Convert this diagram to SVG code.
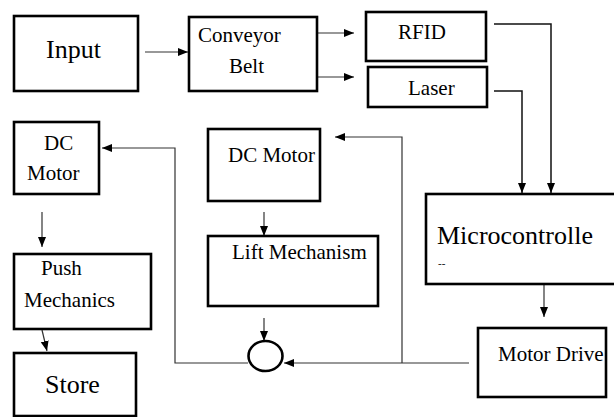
<svg xmlns="http://www.w3.org/2000/svg" width="614" height="417" viewBox="0 0 614 417">
<style>
.box{fill:#fff;stroke:#000;stroke-width:2.6}
text{font-family:'Liberation Serif','DejaVu Serif',serif;fill:#000}
.c{fill:none;stroke:#333;stroke-width:1.2}
.c2{fill:none;stroke:#111;stroke-width:1.5}
</style>
<defs>
<marker id="ah" markerUnits="userSpaceOnUse" markerWidth="10" markerHeight="10" viewBox="0 0 10 8" refX="10" refY="4" orient="auto">
<path d="M0,0 L10,4 L0,8 z" fill="#000"/>
</marker>
</defs>
<rect width="614" height="417" fill="#fff"/>
<g id="connectors">
<path class="c" d="M145,52 H188" marker-end="url(#ah)"/>
<path class="c" d="M310,33 H354" marker-end="url(#ah)"/>
<path class="c" d="M310,77 H354" marker-end="url(#ah)"/>
<path class="c2" d="M494,24 H551 V193" marker-end="url(#ah)"/>
<path class="c2" d="M494,91 H522 V193" marker-end="url(#ah)"/>
<path class="c" d="M544,278 V317" marker-end="url(#ah)"/>
<path class="c" d="M469,363 H284" marker-end="url(#ah)"/>
<path class="c" d="M402,363 V137 H335" marker-end="url(#ah)"/>
<path class="c" d="M248,363 H175 V148 H102" marker-end="url(#ah)"/>
<path class="c" d="M264,212 V236" marker-end="url(#ah)"/>
<path class="c" d="M264,318 V341" marker-end="url(#ah)"/>
<path class="c" d="M42,212 V247" marker-end="url(#ah)"/>
<path class="c" d="M42,330 L47,351" marker-end="url(#ah)"/>
</g>
<g id="input"><rect class="box" x="14" y="16" width="124" height="75"/><text font-family="Liberation Serif, serif" x="46" y="58" font-size="26">Input</text></g>
<g id="conveyor"><rect class="box" x="189" y="17" width="128" height="74"/><text font-family="Liberation Serif, serif" x="198" y="42" font-size="21">Conveyor</text><text font-family="Liberation Serif, serif" x="229" y="73" font-size="21">Belt</text></g>
<g id="rfid"><rect class="box" x="366" y="12" width="120" height="49"/><text font-family="Liberation Serif, serif" x="398" y="39" font-size="21">RFID</text></g>
<g id="laser"><rect class="box" x="368" y="67" width="119" height="40"/><text font-family="Liberation Serif, serif" x="408" y="95" font-size="21">Laser</text></g>
<g id="dcmotor-left"><rect class="box" x="14" y="122" width="85" height="72"/><text font-family="Liberation Serif, serif" x="44" y="150" font-size="21">DC</text><text font-family="Liberation Serif, serif" x="27" y="180" font-size="21">Motor</text></g>
<g id="dcmotor-mid"><rect class="box" x="208" y="129" width="112" height="72"/><text font-family="Liberation Serif, serif" x="228" y="162" font-size="21">DC Motor</text></g>
<g id="lift"><rect class="box" x="208" y="236" width="170" height="70"/><text font-family="Liberation Serif, serif" x="232" y="259" font-size="21">Lift Mechanism</text></g>
<g id="push"><rect class="box" x="14" y="254" width="137" height="75"/><text font-family="Liberation Serif, serif" x="41" y="275" font-size="21">Push</text><text font-family="Liberation Serif, serif" x="24" y="307" font-size="21">Mechanics</text></g>
<g id="store"><rect class="box" x="14" y="353" width="122" height="63"/><text font-family="Liberation Serif, serif" x="45" y="393" font-size="26">Store</text></g>
<g id="micro"><rect class="box" x="426" y="194" width="192" height="90"/><text font-family="Liberation Serif, serif" x="437" y="244" font-size="26">Microcontrolle</text><text font-family="Liberation Serif, serif" x="438" y="267" font-size="11">--</text></g>
<g id="motordrive"><rect class="box" x="478" y="328" width="128" height="69"/><text font-family="Liberation Serif, serif" x="498" y="361" font-size="21">Motor Drive</text></g>
<g id="junction"><ellipse cx="265.5" cy="356" rx="17" ry="15" fill="#fff" stroke="#000" stroke-width="2.6"/></g>
</svg>
